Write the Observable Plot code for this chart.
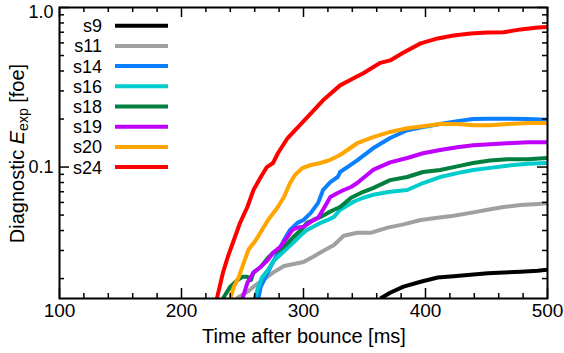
<!DOCTYPE html>
<html><head><meta charset="utf-8">
<script src="https://cdn.jsdelivr.net/npm/d3@7"></script>
<script src="https://cdn.jsdelivr.net/npm/@observablehq/plot@0.6"></script>
<style>body{margin:0;background:#fff;} #chart{position:relative;width:564px;height:353px;}</style>
</head><body><div id="chart"></div>
<script>
// ---- data (time after bounce [ms], diagnostic explosion energy [foe]) ----
const seriesNames = ["s9","s11","s14","s16","s18","s19","s20","s24"];
const seriesColors = ["#000000","#a0a0a0","#0a80ff","#00cccc","#007f3f","#bf00ff","#ffa500","#ff0000"];

const s9 = [[363,0.0150],[371,0.0163],[382,0.0178],[396,0.0191],[410,0.0203],[423,0.0207],[437,0.0211],[451,0.0216],[464,0.0218],[478,0.0221],[492,0.0224],[500,0.0227]];
const s11 = [[245,0.0150],[254,0.0165],[259,0.0178],[267,0.0196],[275,0.0218],[284,0.0240],[292,0.0247],[300,0.0254],[308,0.0274],[316,0.0298],[325,0.0325],[333,0.0371],[344,0.0387],[355,0.0387],[369,0.0417],[382,0.0437],[396,0.0466],[410,0.0481],[423,0.0495],[437,0.0516],[451,0.0540],[464,0.0562],[478,0.0578],[492,0.0587],[500,0.0594]];
const s14 = [[263,0.0150],[265,0.0178],[269,0.0205],[273,0.0237],[279,0.0290],[284,0.0349],[289,0.0404],[295,0.0447],[300,0.0466],[306,0.0516],[312,0.0596],[316,0.0718],[322,0.0805],[328,0.0866],[330,0.0931],[336,0.100],[344,0.110],[357,0.131],[371,0.152],[385,0.170],[398,0.178],[412,0.186],[426,0.194],[439,0.200],[453,0.201],[467,0.201],[484,0.200],[500,0.198]];
const s16 = [[260,0.0150],[263,0.0178],[266,0.0203],[271,0.0227],[275,0.0256],[281,0.0282],[287,0.0312],[292,0.0338],[298,0.0375],[303,0.0404],[308,0.0422],[314,0.0447],[320,0.0466],[325,0.0487],[330,0.0540],[341,0.0606],[349,0.0642],[357,0.0670],[371,0.0700],[385,0.0718],[398,0.0794],[412,0.0866],[426,0.0916],[439,0.0959],[453,0.0988],[467,0.102],[484,0.105],[500,0.106]];
const s18 = [[234,0.0150],[240,0.0178],[246,0.0196],[250,0.0205],[254,0.0205],[257,0.0196],[259,0.0218],[265,0.0237],[271,0.0270],[275,0.0290],[281,0.0304],[287,0.0334],[292,0.0366],[298,0.0404],[303,0.0447],[308,0.0466],[314,0.0487],[320,0.0516],[325,0.0540],[330,0.0562],[339,0.0642],[347,0.0688],[357,0.0738],[371,0.0828],[385,0.0866],[398,0.0931],[412,0.0959],[426,0.101],[439,0.106],[453,0.110],[467,0.112],[484,0.112],[500,0.114]];
const s19 = [[250,0.0150],[254,0.0188],[259,0.0218],[265,0.0237],[271,0.0263],[275,0.0290],[281,0.0316],[287,0.0366],[291,0.0404],[295,0.0417],[300,0.0422],[306,0.0454],[312,0.0481],[316,0.0540],[322,0.0649],[328,0.0688],[333,0.0718],[339,0.0750],[344,0.0794],[357,0.0959],[371,0.107],[385,0.114],[398,0.122],[412,0.128],[426,0.133],[439,0.137],[453,0.139],[467,0.141],[484,0.143],[500,0.143]];
const s20 = [[240,0.0150],[243,0.0178],[247,0.0205],[251,0.0251],[255,0.0304],[261,0.0349],[266,0.0404],[271,0.0466],[279,0.0562],[284,0.0649],[289,0.0794],[293,0.0891],[299,0.0985],[306,0.103],[314,0.106],[322,0.111],[330,0.119],[344,0.141],[357,0.154],[371,0.166],[385,0.175],[398,0.180],[412,0.186],[426,0.186],[439,0.183],[453,0.183],[467,0.186],[484,0.189],[500,0.189]];
const s24 = [[229,0.0150],[234,0.0218],[238,0.0274],[243,0.0350],[248,0.0447],[254,0.0562],[259,0.0718],[265,0.0866],[270,0.100],[275,0.106],[279,0.122],[287,0.152],[293,0.170],[303,0.205],[316,0.262],[330,0.325],[341,0.360],[349,0.387],[363,0.450],[371,0.466],[382,0.523],[396,0.596],[410,0.640],[423,0.668],[437,0.688],[451,0.698],[464,0.700],[478,0.729],[492,0.750],[500,0.755]];
const seriesData = [s9, s11, s14, s16, s18, s19, s20, s24];

const xMajorTicks = [100,200,300,400,500];
const xMinorTicks = [120,140,160,180,220,240,260,280,320,340,360,380,420,440,460,480];
const yMajorTicks = [0.1, 1];
const yTickLabels = ["0.1","1.0"];
const yMinorTicks = [0.02,0.03,0.04,0.05,0.06,0.07,0.08,0.09,0.2,0.3,0.4,0.5,0.6,0.7,0.8,0.9];

// ---- layout ----
const W = 564, Hh = 353;
const mL = 59, mR = 17, mT = 7, mB = 55;
const FW = W - mL - mR, FH = Hh - mT - mB;
const FONT = "'Liberation Sans', Arial, Helvetica, sans-serif";

const lineMarks = seriesData.map((s, i) =>
  Plot.line(s, {x: d => d[0], y: d => d[1], stroke: seriesColors[i], strokeWidth: 4, strokeLinejoin: "round", strokeLinecap: "butt", clip: true})
);

const tk = {stroke: "#000", strokeWidth: 1.5};
const yFmt = d => yTickLabels[yMajorTicks.indexOf(d)];
const plot = Plot.plot({
  width: W, height: Hh,
  marginLeft: mL, marginRight: mR, marginTop: mT, marginBottom: mB,
  style: {fontFamily: FONT, fontSize: "18px", color: "#000", background: "#fff"},
  x: {domain: [100, 500]},
  y: {type: "log", domain: [0.015, 1]},
  marks: [
    ...lineMarks,
    // inward ticks on all four sides
    Plot.tickX(xMajorTicks, {x: d => d, insetTop: FH - 10, ...tk}),
    Plot.tickX(xMajorTicks, {x: d => d, insetBottom: FH - 10, ...tk}),
    Plot.tickX(xMinorTicks, {x: d => d, insetTop: FH - 5, ...tk}),
    Plot.tickX(xMinorTicks, {x: d => d, insetBottom: FH - 5, ...tk}),
    Plot.tickY(yMajorTicks, {y: d => d, insetRight: FW - 10, ...tk}),
    Plot.tickY(yMajorTicks, {y: d => d, insetLeft: FW - 10, ...tk}),
    Plot.tickY(yMinorTicks, {y: d => d, insetRight: FW - 5, ...tk}),
    Plot.tickY(yMinorTicks, {y: d => d, insetLeft: FW - 5, ...tk}),
    Plot.frame({stroke: "#000", strokeWidth: 2}),
    Plot.axisX(xMajorTicks, {tickSize: 0, tickPadding: 5, fontSize: 19, label: null, tickFormat: d => String(d)}),
    Plot.axisY(yMajorTicks.slice(0, 1), {tickSize: 0, tickPadding: 6, fontSize: 18, label: null, tickFormat: yFmt}),
    Plot.axisY(yMajorTicks.slice(1), {tickSize: 0, tickPadding: 6, fontSize: 18, dy: 5, label: null, tickFormat: yFmt})
  ]
});
document.getElementById("chart").appendChild(plot);

const svg = d3.select(plot);
// x-axis label
svg.append("text").attr("x", 304).attr("y", 343).attr("text-anchor", "middle")
  .attr("font-family", FONT).attr("font-size", 20).attr("fill", "#000").text("Time after bounce [ms]");
// y-axis label
const yl = svg.append("text").attr("transform", `translate(24,${mT + FH / 2 + 1}) rotate(-90)`)
  .attr("text-anchor", "middle").attr("font-family", FONT).attr("font-size", 20).attr("fill", "#000");
yl.append("tspan").text("Diagnostic ");
yl.append("tspan").attr("font-style", "italic").text("E");
yl.append("tspan").attr("font-size", 14).attr("dy", 4).text("exp");
yl.append("tspan").attr("dy", -4).text(" [foe]");

// legend
const lg = svg.append("g");
seriesNames.forEach((n, i) => {
  const y = 25.7 + 20.2 * i;
  lg.append("text").attr("x", 102).attr("y", y + 6.5).attr("text-anchor", "end")
    .attr("font-family", FONT).attr("font-size", 18).attr("fill", "#000").text(n);
  lg.append("line").attr("x1", 115).attr("x2", 168).attr("y1", y).attr("y2", y)
    .attr("stroke", seriesColors[i]).attr("stroke-width", 4);
});
</script>
</body></html>
